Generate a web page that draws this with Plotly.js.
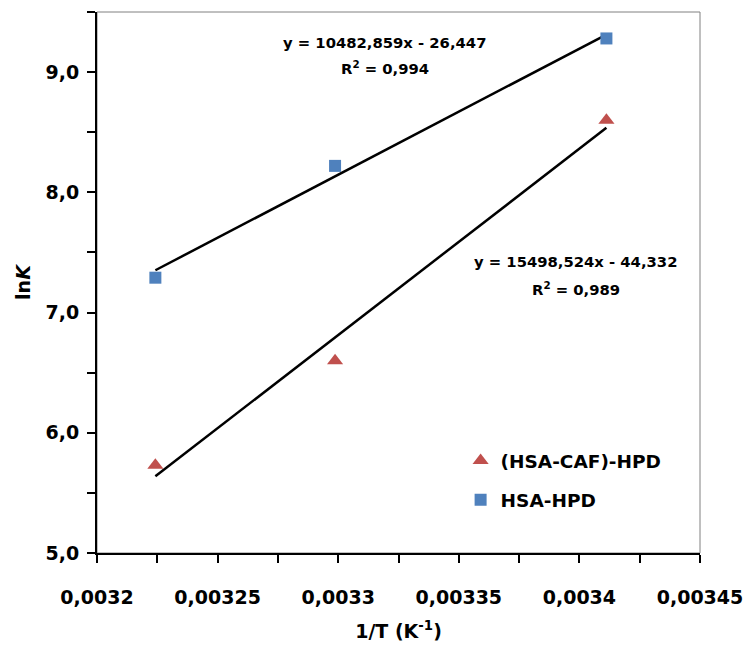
<!DOCTYPE html>
<html>
<head>
<meta charset="utf-8">
<script src="https://cdn.plot.ly/plotly-3.0.1.min.js"></script>
<style>html,body{margin:0;padding:0;background:#fff;}#chart{width:745px;height:651px;}</style>
</head>
<body>
<div id="chart"></div>
<script>
// 1/T values (K^-1) for T = 310.15, 303.15, 293.15 K
const invT = [0.0032242, 0.0032987, 0.0034112];
const lnK_HSA_HPD = [7.29, 8.22, 9.28];
const lnK_HSA_CAF_HPD = [5.73, 6.60, 8.60];
const seriesNames = ["(HSA-CAF)-HPD", "HSA-HPD"];
// Linear fits shown on the chart: [HSA-HPD, (HSA-CAF)-HPD]
const fitSlopes = [10482.859, 15498.524];
const fitIntercepts = [-26.447, -44.332];
const fitR2 = [0.994, 0.989];
const fitLabels = ["y = 10482,859x - 26,447", "y = 15498,524x - 44,332"];
const r2Labels = ["0,994", "0,989"];
const xTickVals = [0.0032, 0.00325, 0.0033, 0.00335, 0.0034, 0.00345];
const xTickText = ["0,0032", "0,00325", "0,0033", "0,00335", "0,0034", "0,00345"];

const FONT = "DejaVu Sans, sans-serif";
const xEnds = [invT[0], invT[invT.length - 1]];
function fitLine(i) {
  return {
    x: xEnds,
    y: xEnds.map(x => fitSlopes[i] * x + fitIntercepts[i]),
    mode: "lines",
    line: {color: "#000000", width: 2.5},
    showlegend: false,
    hoverinfo: "skip"
  };
}

const traces = [
  fitLine(0),
  fitLine(1),
  {
    x: invT, y: lnK_HSA_CAF_HPD, name: seriesNames[0], mode: "markers",
    legendgroup: "a",
    marker: {symbol: "triangle-up", size: 14, color: "#C0504D"}
  },
  {
    x: invT, y: lnK_HSA_HPD, name: seriesNames[1], mode: "markers",
    legendgroup: "b",
    marker: {symbol: "square", size: 12, color: "#4F81BD"}
  }
];

const annFont = {family: FONT, size: 14.8, color: "#000000", weight: "bold"};
const layout = {
  width: 745, height: 651,
  margin: {l: 97, r: 45, t: 12, b: 98},
  paper_bgcolor: "#ffffff", plot_bgcolor: "#ffffff",
  separators: ",.",
  font: {family: FONT, color: "#000000", weight: "bold"},
  xaxis: {
    range: [0.0032, 0.00345],
    tickvals: xTickVals, ticktext: xTickText,
    ticks: "outside", ticklen: 8, tickwidth: 2, tickcolor: "#000000",
    minor: {dtick: 0.000025, ticks: "outside", ticklen: 8, tickwidth: 2, tickcolor: "#000000"},
    showline: true, linecolor: "#000000", linewidth: 2,
    showgrid: false, zeroline: false,
    tickfont: {family: FONT, size: 19, color: "#000000", weight: "bold"},
    ticklabelstandoff: 18,
    title: {text: "1/T (K<sup>-1</sup>)", font: {family: FONT, size: 19, color: "#000000", weight: "bold"}, standoff: 18}
  },
  yaxis: {
    range: [5, 9.5],
    tickvals: [5, 6, 7, 8, 9],
    tickformat: ".1f",
    ticks: "outside", ticklen: 8, tickwidth: 2, tickcolor: "#000000",
    minor: {dtick: 0.5, ticks: "outside", ticklen: 8, tickwidth: 2, tickcolor: "#000000"},
    showline: true, linecolor: "#000000", linewidth: 2,
    showgrid: false, zeroline: false,
    tickfont: {family: FONT, size: 19, color: "#000000", weight: "bold"},
    ticklabelstandoff: 4,
    title: {text: "ln<i>K</i>", font: {family: FONT, size: 19, color: "#000000", weight: "bold"}, standoff: 10}
  },
  shapes: [{
    type: "rect", xref: "paper", yref: "paper", x0: 0, x1: 1, y0: 0, y1: 1,
    line: {color: "#808080", width: 1}, layer: "below"
  }],
  showlegend: true,
  legend: {
    x: 0.603, y: 0.205, xanchor: "left", yanchor: "top",
    bgcolor: "rgba(0,0,0,0)", borderwidth: 0,
    traceorder: "grouped", tracegroupgap: 12,
    itemwidth: 30,
    font: {family: FONT, size: 18.5, color: "#000000", weight: "bold"}
  },
  annotations: [
    {xref: "paper", yref: "paper", x: 0.4776, y: 0.9445, xanchor: "center", yanchor: "middle", text: fitLabels[0], showarrow: false, font: annFont},
    {xref: "paper", yref: "paper", x: 0.4776, y: 0.8983, xanchor: "center", yanchor: "middle", text: "R<sup>2</sup> = " + r2Labels[0], showarrow: false, font: annFont},
    {xref: "paper", yref: "paper", x: 0.794, y: 0.5379, xanchor: "center", yanchor: "middle", text: fitLabels[1], showarrow: false, font: annFont},
    {xref: "paper", yref: "paper", x: 0.794, y: 0.488, xanchor: "center", yanchor: "middle", text: "R<sup>2</sup> = " + r2Labels[1], showarrow: false, font: annFont}
  ]
};

Plotly.newPlot("chart", traces, layout, {displayModeBar: false, staticPlot: true});
</script>
</body>
</html>
